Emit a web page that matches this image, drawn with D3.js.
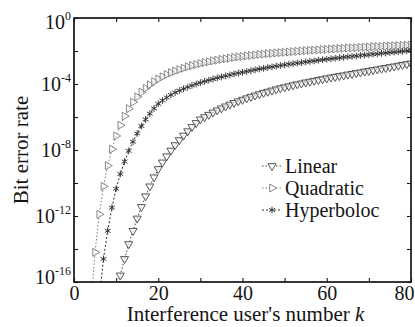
<!DOCTYPE html>
<html>
<head>
<meta charset="utf-8">
<script src="https://cdn.jsdelivr.net/npm/d3@7"></script>
<style>
  body { margin: 0; background: #fff; }
  text { font-family: "Liberation Serif", "DejaVu Serif", serif; fill: #151515; }
</style>
</head>
<body>
<svg id="chart" width="415" height="327"></svg>
<script>
// interference user's number k for each series
const kLinear = d3.range(10, 81);
const kQuadratic = d3.range(4, 81);
const kHyper = d3.range(6, 81);

// log10 of bit error rate
const logLinear = [
  -17.5, -15.6, -14.6, -13.7, -12.9, -12.15, -11.45, -10.8, -10.2, -9.65,
  -9.15, -8.75, -8.38, -8.03, -7.7, -7.4, -7.12, -6.86, -6.6, -6.36,
  -6.14, -6.0, -5.86, -5.72, -5.59, -5.47, -5.35, -5.24, -5.14, -5.04,
  -4.95, -4.86, -4.77, -4.69, -4.61, -4.53, -4.46, -4.39, -4.32, -4.25,
  -4.19, -4.13, -4.07, -4.01, -3.96, -3.9, -3.85, -3.8, -3.75, -3.7,
  -3.65, -3.6, -3.56, -3.51, -3.47, -3.42, -3.38, -3.33, -3.29, -3.24,
  -3.2, -3.15, -3.11, -3.06, -3.02, -2.97, -2.93, -2.88, -2.84, -2.79,
  -2.75
];
const logQuadratic = [
  -17.5, -14.2, -11.9, -10.2, -8.95, -7.95, -7.15, -6.5, -5.95, -5.5,
  -5.1, -4.78, -4.5, -4.26, -4.05, -3.86, -3.7, -3.56, -3.43, -3.32,
  -3.22, -3.13, -3.04, -2.96, -2.89, -2.82, -2.76, -2.7, -2.65, -2.6,
  -2.55, -2.51, -2.47, -2.43, -2.39, -2.36, -2.33, -2.3, -2.27, -2.24,
  -2.21, -2.19, -2.16, -2.14, -2.12, -2.1, -2.08, -2.06, -2.04, -2.02,
  -2.0, -1.98, -1.96, -1.95, -1.93, -1.91, -1.9, -1.88, -1.87, -1.85,
  -1.84, -1.82, -1.81, -1.8, -1.78, -1.77, -1.76, -1.74, -1.73, -1.72,
  -1.71, -1.7, -1.68, -1.67, -1.66, -1.65, -1.64
];
const logHyper = [
  -17.0, -14.6, -12.9, -11.5, -10.35, -9.45, -8.7, -8.05, -7.5, -7.0,
  -6.55, -6.15, -5.8, -5.48, -5.2, -5.0, -4.82, -4.66, -4.52, -4.4,
  -4.29, -4.19, -4.09, -4.0, -3.92, -3.84, -3.77, -3.7, -3.63, -3.57,
  -3.51, -3.45, -3.39, -3.34, -3.29, -3.24, -3.19, -3.14, -3.09, -3.05,
  -3.0, -2.96, -2.92, -2.88, -2.84, -2.8, -2.77, -2.73, -2.7, -2.66,
  -2.63, -2.6, -2.56, -2.53, -2.5, -2.47, -2.44, -2.41, -2.38, -2.35,
  -2.33, -2.3, -2.27, -2.25, -2.22, -2.19, -2.17, -2.14, -2.12, -2.09,
  -2.07, -2.04, -2.02, -1.99, -1.97
];

const seriesNames = ["Linear", "Quadratic", "Hyperboloc"];
const xTicks = [0, 10, 20, 30, 40, 50, 60, 70, 80];
const yTickExps = [0, -2, -4, -6, -8, -10, -12, -14, -16];

const svg = d3.select("#chart");
const plotL = 74, plotR = 411, plotT = 18, plotB = 282;

const x = d3.scaleLinear().domain([0, 80]).range([plotL, plotR]);
const y = d3.scaleLog().domain([1e-16, 1]).range([plotB, plotT]);

svg.append("defs").append("clipPath").attr("id", "plotClip")
  .append("rect")
  .attr("x", plotL).attr("y", plotT - 4)
  .attr("width", plotR - plotL).attr("height", plotB - plotT + 4);

// symbols
const triDown = d3.symbol().type(d3.symbolTriangle).size(28);
const starType = d3.symbolAsterisk || d3.symbolCross;
const star = d3.symbol().type(starType).size(32);

const series = [
  { name: "Linear", k: kLinear, v: logLinear, color: "#444", path: triDown(), rot: 180, dash: "1.5,2" },
  { name: "Quadratic", k: kQuadratic, v: logQuadratic, color: "#7a7a7a", path: triDown(), rot: 90, dash: "1.5,2" },
  { name: "Hyperboloc", k: kHyper, v: logHyper, color: "#2a2a2a", path: star(), rot: 0, dash: "2,2" }
];

const plot = svg.append("g").attr("clip-path", "url(#plotClip)");

const line = d3.line()
  .x(d => x(d[0]))
  .y(d => y(Math.pow(10, d[1])));

series.forEach(s => {
  const pts = s.k.map((k, i) => [k, s.v[i]]);
  plot.append("path")
    .datum(pts)
    .attr("fill", "none")
    .attr("stroke", s.color)
    .attr("stroke-width", 1)
    .attr("stroke-dasharray", s.dash)
    .attr("d", line);
  plot.append("g").selectAll("path")
    .data(pts)
    .join("path")
    .attr("d", s.path)
    .attr("transform", d => `translate(${x(d[0])},${y(Math.pow(10, d[1]))}) rotate(${s.rot})`)
    .attr("fill", s.name === "Hyperboloc" ? "none" : "#fff")
    .attr("fill-opacity", 0.6)
    .attr("stroke", s.color)
    .attr("stroke-width", 0.9);
});

// axes, ticks pointing inward on all four sides
const tickFont = 20;
const xAxisB = d3.axisBottom(x).tickValues(xTicks).tickSizeInner(-4).tickSizeOuter(0)
  .tickPadding(4).tickFormat(d => d % 20 === 0 ? d : "");
const xAxisT = d3.axisTop(x).tickValues(xTicks).tickSizeInner(-4).tickSizeOuter(0).tickFormat("");
const yVals = yTickExps.map(e => Math.pow(10, e));
const yAxisL = d3.axisLeft(y).tickValues(yVals).tickSizeInner(-4).tickSizeOuter(0)
  .tickPadding(3).tickFormat("");
const yAxisR = d3.axisRight(y).tickValues(yVals).tickSizeInner(-4).tickSizeOuter(0).tickFormat("");

const gxb = svg.append("g").attr("transform", `translate(0,${plotB})`).call(xAxisB);
svg.append("g").attr("transform", `translate(0,${plotT})`).call(xAxisT);
const gyl = svg.append("g").attr("transform", `translate(${plotL},0)`).call(yAxisL);
svg.append("g").attr("transform", `translate(${plotR},0)`).call(yAxisR);

svg.selectAll(".domain").remove();
svg.selectAll(".tick line").attr("stroke", "#151515").attr("stroke-width", 1.1);

gxb.selectAll(".tick text")
  .attr("font-size", tickFont)
  .attr("fill", "#151515")
  .attr("dx", d => d === 80 ? "-0.35em" : 0);

// y labels as 10^n
gyl.selectAll(".tick text").each(function (d) {
  const e = Math.round(Math.log10(d));
  const t = d3.select(this)
    .text(null)
    .attr("font-size", tickFont)
    .attr("fill", "#151515")
    .attr("dy", e === 0 ? "0.5em" : (e === -16 ? "0.05em" : "0.3em"));
  if (e % 4 !== 0) return;
  t.append("tspan").text("10");
  t.append("tspan").text(e).attr("font-size", 12).attr("dy", "-0.7em");
});

// frame
svg.append("rect")
  .attr("x", plotL).attr("y", plotT)
  .attr("width", plotR - plotL).attr("height", plotB - plotT)
  .attr("fill", "none").attr("stroke", "#151515").attr("stroke-width", 1.7);

// axis titles
svg.append("text")
  .attr("x", (plotL + plotR) / 2 + 3).attr("y", 321)
  .attr("text-anchor", "middle").attr("font-size", 21)
  .text("Interference user's number ")
  .append("tspan").attr("font-style", "italic").text("k");

svg.append("text")
  .attr("transform", `translate(28,${(plotT + plotB) / 2}) rotate(-90)`)
  .attr("text-anchor", "middle").attr("font-size", 21)
  .text("Bit error rate");

// legend
const legend = svg.append("g").attr("transform", "translate(262,166)");
series.forEach((s, i) => {
  const g = legend.append("g").attr("transform", `translate(0,${i * 22})`);
  g.append("line")
    .attr("x1", 0).attr("x2", 19).attr("y1", 0).attr("y2", 0)
    .attr("stroke", s.color).attr("stroke-width", 1).attr("stroke-dasharray", s.dash);
  g.append("path")
    .attr("d", s.path)
    .attr("transform", `translate(10,0) rotate(${s.rot})`)
    .attr("fill", s.name === "Hyperboloc" ? "none" : "#fff")
    .attr("stroke", s.color).attr("stroke-width", 0.9);
  g.append("text")
    .attr("x", 23).attr("y", 7)
    .attr("font-size", 20)
    .text(seriesNames[i]);
});
</script>
</body>
</html>
